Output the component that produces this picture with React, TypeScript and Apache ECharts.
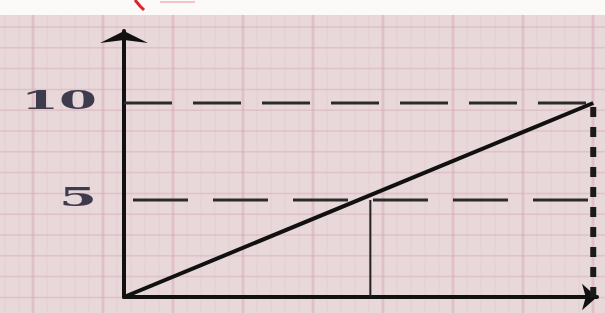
import React, { useEffect, useRef } from "react";
import * as echarts from "echarts";

// data
const diagonalX = [0, 10];
const diagonalY = [0, 10];
const upperLevel = 10;
const midLevel = 5;
const xEnd = 10;
const markerX = 5.25;
const yTickValues = [5, 10];
const yTickLabels = ["5", "10"];

const W = 605;
const H = 313;

function paperGraphics(): any[] {
  const g: any[] = [];
  g.push({ type: "rect", z: -30, silent: true, shape: { x: 0, y: 0, width: W, height: 15 }, style: { fill: "#fcf9f9" } });
  g.push({ type: "rect", z: -30, silent: true, shape: { x: 0, y: 15, width: W, height: H - 15 }, style: { fill: "#e9d8da" } });
  // minor vertical rules
  for (let x = 5; x < W; x += 14) {
    g.push({ type: "line", z: -28, silent: true, shape: { x1: x, y1: 15, x2: x, y2: H }, style: { stroke: "#dcbcc4", lineWidth: 1, opacity: 0.35 } });
  }
  // major vertical rules
  for (let x = 33; x < W; x += 70) {
    g.push({ type: "line", z: -27, silent: true, shape: { x1: x, y1: 15, x2: x, y2: H }, style: { stroke: "#d3a0ae", lineWidth: 3, opacity: 0.35 } });
  }
  // horizontal rules
  for (let y = 27; y < H; y += 20.8) {
    g.push({ type: "line", z: -27, silent: true, shape: { x1: 0, y1: y, x2: W, y2: y }, style: { stroke: "#d6a9b5", lineWidth: 1.5, opacity: 0.5 } });
  }
  // red pen mark at the top
  g.push({ type: "polyline", z: -20, silent: true, shape: { points: [[135, 0], [140, 6], [144, 10]] }, style: { stroke: "#e0222a", lineWidth: 3, fill: "none" } });
  g.push({ type: "line", z: -20, silent: true, shape: { x1: 160, y1: 2, x2: 195, y2: 2 }, style: { stroke: "#f0a0a0", lineWidth: 2, opacity: 0.6 } });
  return g;
}

export default function App() {
  const ref = useRef<HTMLDivElement>(null);
  useEffect(() => {
    const el = ref.current!;
    const chart = echarts.init(el, null, { renderer: "svg" });
    const bg = paperGraphics();
    const lineBase = { type: "line", symbol: "none", silent: true, z: 5 };
    chart.setOption({
      animation: false,
      graphic: bg,
      grid: { left: 124, right: 8, top: 31, bottom: 16 },
      xAxis: {
        type: "value",
        min: 0,
        max: 10.08,
        axisLine: { show: true, onZero: false, symbol: ["none", "arrow"], symbolSize: [20, 15], lineStyle: { color: "#111", width: 4 } },
        axisTick: { show: false },
        axisLabel: { show: false },
        splitLine: { show: false },
      },
      yAxis: {
        type: "value",
        min: 0,
        max: 13.71,
        interval: 5,
        axisLine: { show: true, onZero: false, symbol: ["none", "arrow"], symbolSize: [36, 12], lineStyle: { color: "#111", width: 4 } },
        axisTick: { show: false },
        axisLabel: { show: false },
        splitLine: { show: false },
      },
      series: [
        {
          ...lineBase,
          data: [[0, upperLevel], [xEnd, upperLevel]],
          lineStyle: { color: "#2b2b2b", width: 3, type: [48, 21], dashOffset: 0 },
        },
        {
          ...lineBase,
          data: [[0, midLevel], [xEnd, midLevel]],
          lineStyle: { color: "#2b2b2b", width: 3, type: [55, 25], dashOffset: 71 },
        },
        {
          ...lineBase,
          data: [[xEnd, 0], [xEnd, upperLevel]],
          lineStyle: { color: "#1a1a1a", width: 6, type: [10, 10] },
        },
        {
          ...lineBase,
          data: [[markerX, 0], [markerX, midLevel]],
          lineStyle: { color: "#222", width: 2, type: "solid" },
        },
        {
          ...lineBase,
          z: 6,
          data: diagonalX.map((x, i) => [x, diagonalY[i]]),
          lineStyle: { color: "#111", width: 4, type: "solid" },
        },
      ],
    });
    const labels = yTickValues.map((v, i) => {
      const py = chart.convertToPixel({ yAxisIndex: 0 }, v) as number;
      return {
        type: "text",
        z: 10,
        silent: true,
        x: 97,
        y: py - 3,
        scaleX: 2.1,
        style: {
          text: yTickLabels[i],
          fontFamily: "DejaVu Serif",
          fontSize: 26,
          fontWeight: "bold",
          fill: "#3d3b4c",
          align: "right",
          verticalAlign: "middle",
        },
      };
    });
    chart.setOption({ graphic: [...bg, ...labels] });
    return () => chart.dispose();
  }, []);
  return <div ref={ref} style={{ position: "fixed", left: 0, top: 0, width: W, height: H }} />;
}
